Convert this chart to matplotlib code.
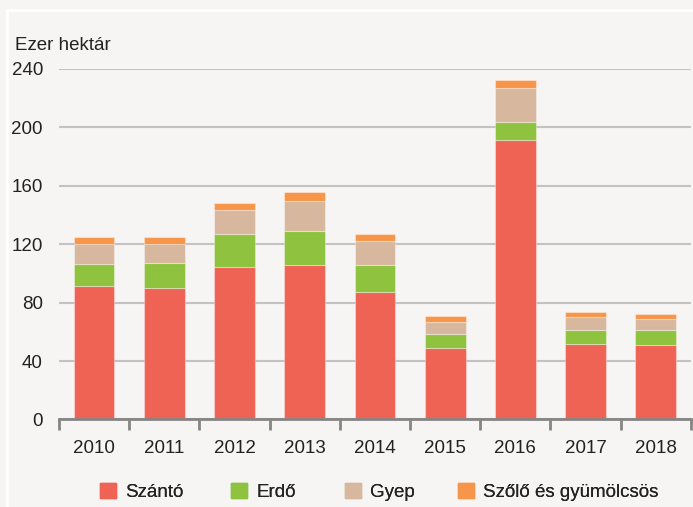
import matplotlib.pyplot as plt
import numpy as np
from matplotlib.lines import Line2D
from matplotlib.patches import Patch

evek = ["2010", "2011", "2012", "2013", "2014", "2015", "2016", "2017", "2018"]
szanto = [91.6, 90.0, 104.4, 105.7, 87.5, 48.9, 191.3, 51.7, 51.0]
erdo = [14.8, 17.0, 22.6, 23.3, 18.0, 9.6, 11.9, 9.8, 10.3]
gyep = [13.7, 13.2, 16.4, 20.6, 16.7, 8.0, 23.7, 8.5, 7.5]
szolo = [5.0, 4.8, 5.0, 5.9, 4.8, 4.1, 5.7, 3.6, 3.4]

sorozatok = [
    ("Szántó", szanto, "#ef6355"),
    ("Erdő", erdo, "#8fc23f"),
    ("Gyep", gyep, "#d7b89e"),
    ("Szőlő és gyümölcsös", szolo, "#f7964a"),
]

plt.rcParams["font.family"] = ["Liberation Sans", "DejaVu Sans"]
bg = "#f6f5f3"
fs = 13.5
txt = "#222222"

fig = plt.figure(figsize=(6.93, 5.07), dpi=100, facecolor=bg)
ax = fig.add_axes([0.085, 0.1726, 0.912, 0.6919], facecolor=bg)

x = np.arange(len(evek))
alap = np.zeros(len(evek))
for nev, ertek, szin in sorozatok:
    ax.bar(x, ertek, width=0.58, bottom=alap, color=szin, label=nev,
           edgecolor=(1, 1, 1, 0.35), linewidth=0.8, zorder=3)
    alap += np.array(ertek)

ax.set_ylim(0, 240)
ax.set_yticks(range(0, 241, 40))
ax.set_xlim(-0.5, len(evek) - 0.5)
ax.set_xticks(x)
ax.set_xticklabels(evek)
ax.set_xticks(np.arange(-0.5, len(evek)), minor=True)

ax.grid(axis="y", color="#c4c2c4", linewidth=1.5, zorder=0)
for s in ["top", "right", "left"]:
    ax.spines[s].set_visible(False)
ax.spines["bottom"].set_color("#858585")
ax.spines["bottom"].set_linewidth(2)
ax.spines["bottom"].set_zorder(4)

ax.tick_params(axis="y", length=0, pad=11.5, labelsize=fs, labelcolor=txt)
ax.tick_params(axis="x", which="major", length=0, pad=15, labelsize=fs,
               labelcolor=txt)
ax.tick_params(axis="x", which="minor", length=8, width=2, color="#858585")

fig.text(0.022, 0.911, "Ezer hektár", fontsize=fs, color=txt,
         va="center", ha="left")

# fehér keret a panel szélén
fig.add_artist(Line2D([0.01, 1.0], [0.980, 0.980], transform=fig.transFigure,
                      color="white", linewidth=2))
fig.add_artist(Line2D([0.01, 0.01], [0.0, 0.980], transform=fig.transFigure,
                      color="white", linewidth=2))

# jelmagyarázat elemenként, a minta szerinti helyeken
leg_x = [100, 231, 345, 458]
for (nev, _, szin), px in zip(sorozatok, leg_x):
    lg = fig.legend(handles=[Patch(color=szin, label=nev)], loc="center left",
                    bbox_to_anchor=(px / 693, 0.0296), frameon=False,
                    fontsize=fs, handlelength=0.85, handleheight=0.85,
                    handletextpad=0.5, borderpad=0, borderaxespad=0,
                    labelcolor=txt)
    fig.add_artist(lg)

fig.savefig("out.png", dpi=100, facecolor=bg)
